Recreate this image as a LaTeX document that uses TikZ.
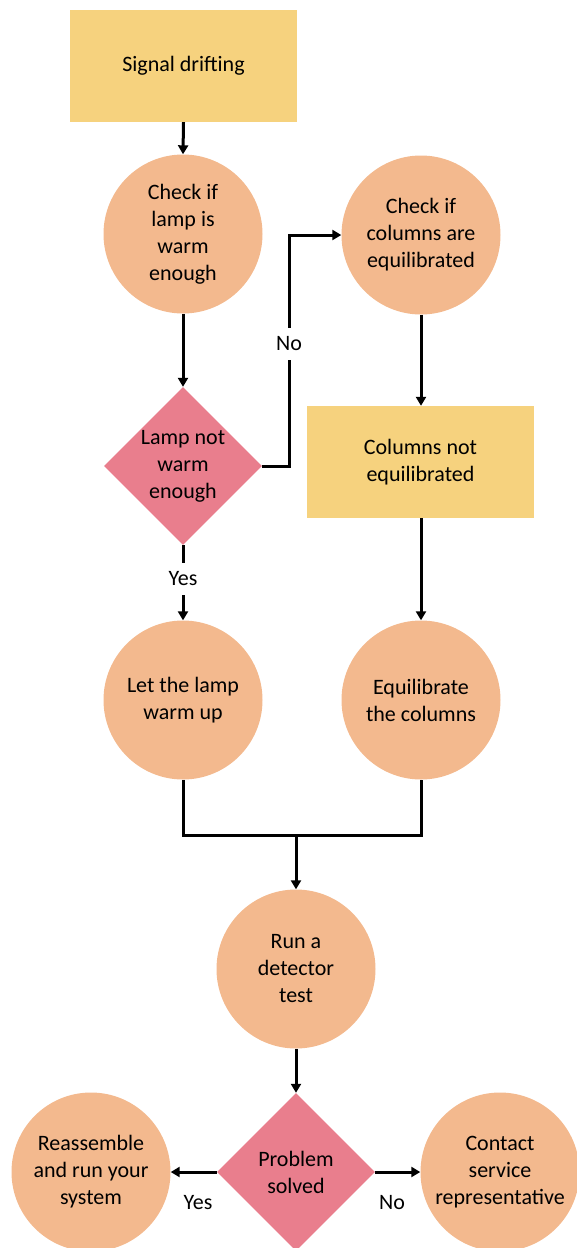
\documentclass[tikz,border=0pt]{standalone}
\usepackage{fontspec}
\setmainfont{Carlito}
\usetikzlibrary{shapes.geometric,arrows.meta}
\definecolor{boxyellow}{HTML}{F6D27E}
\definecolor{peach}{HTML}{F3B98E}
\definecolor{rose}{HTML}{E97E8D}
\tikzset{
  base/.style={font=\fontsize{22}{27}\selectfont, align=center, inner sep=0pt, draw=none},
  stepbox/.style={base, rectangle, fill=boxyellow, minimum width=227pt, minimum height=112pt},
  stepcircle/.style={base, circle, fill=peach, minimum size=159pt},
  decision/.style={base, diamond, aspect=1, fill=rose, minimum width=158pt, minimum height=158pt},
  link/.style={line width=3pt, black},
  arrow/.style={link, -{Triangle[length=9pt,width=10pt]}},
  lbl/.style={font=\fontsize{22}{27}\selectfont, fill=white, inner xsep=2pt, inner ysep=9pt},
}
\begin{document}
\begin{tikzpicture}[x=1pt,y=-1pt]
\useasboundingbox (0,0) rectangle (576,1248);

% shapes
\node[stepbox]    (start) at (183.5,66)  {Signal drifting};
\node[stepcircle] (lamp)  at (183,234)   {Check if\\lamp is\\warm\\enough};
\node[decision]   (cold)  at (183,466)   {Lamp not\\warm\\enough};
\node[stepcircle] (warm)  at (183,700)   {Let the lamp\\warm up};
\node[stepcircle] (cols)  at (421,235)   {Check if\\columns are\\equilibrated};
\node[stepbox]    (noeq)  at (420.5,462) {Columns not\\equilibrated};
\node[stepcircle] (equil) at (421,700)   {Equilibrate\\the columns};
\node[stepcircle] (test)  at (296,969)   {Run a\\detector\\test};
\node[decision]   (solved) at (296,1172) {Problem\\solved};
\node[stepcircle] (reass) at (91,1172)   {Reassemble\\and run your\\system};
\node[stepcircle] (call)  at (500,1172)  {Contact\\service\\representative};

% junction points
\coordinate (nturn) at (289,466);
\coordinate (merge) at (296,835);

% connectors
\draw[arrow] (start.south) -- (lamp.north);
\draw[arrow] (lamp.south) -- (cold.north);
\draw[arrow] (cold.south) -- (warm.north);
\node[lbl] (yes1) at (183,579) {Yes};
\draw[arrow] (cold.east) -- (nturn) |- (cols.west);
\node[lbl] (no1) at (289,344) {No};
\draw[arrow] (cols.south) -- (noeq.north -| cols.south);
\draw[arrow] (noeq.south -| equil.north) -- (equil.north);
\draw[link] (warm.south) |- (merge) -| (equil.south);
\draw[arrow] (merge) -- (test.north);
\draw[arrow] (test.south) -- (solved.north);
\draw[arrow] (solved.west) -- (reass.east);
\draw[arrow] (solved.east) -- (call.west);
\node[font=\fontsize{22}{27}\selectfont] (yes2) at (198,1203) {Yes};
\node[font=\fontsize{22}{27}\selectfont] (no2) at (392,1203) {No};
\end{tikzpicture}
\end{document}
